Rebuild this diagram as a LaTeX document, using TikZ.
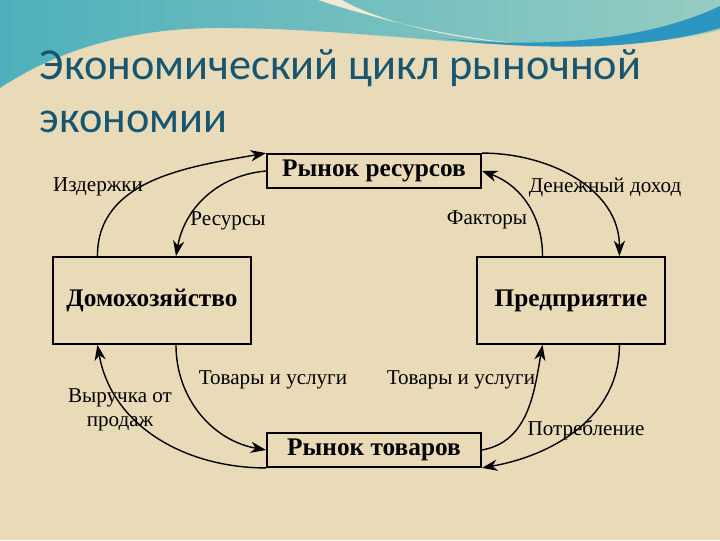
\documentclass[tikz,border=0pt]{standalone}
\usepackage{fontspec}
\setmainfont{Liberation Serif}
\newfontfamily\titlefont{Carlito}
\usetikzlibrary{arrows.meta,calc}

\definecolor{sand}{RGB}{233,218,184}
\definecolor{seateal}{RGB}{78,176,188}
\definecolor{sealight}{RGB}{150,204,194}
\definecolor{seadeep}{RGB}{45,150,192}
\definecolor{titleblue}{RGB}{22,86,112}

\begin{document}
\begin{tikzpicture}[x=0.025cm,y=0.025cm,
		box/.style={draw, line width=1.3pt, inner sep=0pt, font=\fontsize{18}{20}\selectfont\bfseries},
		flow/.style={line width=1pt, -{Stealth[length=11pt,width=8pt,inset=3.5pt]}},
		lbl/.style={inner sep=0pt, font=\fontsize{15}{17}\selectfont}]
		%% background and wave
		\fill[sand] (0,0) rectangle (720,540);
		\shade[left color=seateal, right color=sealight] (0,540) -- (720,540) -- (720,510)
			.. controls (660,495) and (590,493) .. (520,495)
			.. controls (440,497) and (330,512) .. (220,512)
			.. controls (120,512) and (50,485) .. (0,452) -- cycle;
		\fill[seadeep] (430,503) .. controls (560,488) and (660,505) .. (720,534) -- (720,512)
			.. controls (650,492) and (570,490) .. (480,497) -- cycle;
		\fill[sand!60!white] (318,540) .. controls (380,520) and (450,503) .. (515,497)
			.. controls (445,501) and (372,522) .. (342,540) -- cycle;
		\useasboundingbox (0,0) rectangle (720,540);
	
		\node[anchor=base west, text=titleblue, font=\titlefont\fontsize{31.5}{38}\selectfont] (title) at (35,460) {Экономический цикл рыночной};
		\node[anchor=base west, text=titleblue, font=\titlefont\fontsize{31.5}{38}\selectfont] (title2) at (35,407) {экономии};
	
		%% boxes
		\node[box, minimum width=5.35cm, minimum height=0.85cm] (resmarket) at (374,369) {Рынок ресурсов};
		\node[box, minimum width=5.35cm, minimum height=0.85cm] (goodsmarket) at (374,90) {Рынок товаров};
		\node[box, minimum width=4.95cm, minimum height=2.175cm] (household) at (152,239.5) {Домохозяйство};
		\node[box, minimum width=4.7cm, minimum height=2.175cm] (firm) at (571,239.5) {Предприятие};
	
		%% flows
		\draw[flow] ($(household.north west)!0.227!(household.north east)$) to[out=90,in=190] (resmarket.north west);
		\draw[flow] (resmarket.west) to[out=185,in=80] ($(household.north west)!0.62!(household.north east)$);
		\draw[flow] (resmarket.north east) to[out=0,in=90] ($(firm.north west)!0.755!(firm.north east)$);
		\draw[flow] ($(firm.north west)!0.35!(firm.north east)$) to[out=90,in=-20] (resmarket.east);
		\draw[flow] ($(household.south west)!0.62!(household.south east)$) to[out=-90,in=170] (goodsmarket.west);
		\draw[flow] (goodsmarket.south west) to[out=180,in=-80] ($(household.south west)!0.227!(household.south east)$);
		\draw[flow] (goodsmarket.east) to[out=10,in=-100] ($(firm.south west)!0.35!(firm.south east)$);
		\draw[flow] ($(firm.south west)!0.755!(firm.south east)$) to[out=-90,in=10] (goodsmarket.south east);
	
		%% labels
		\node[lbl] (costs) at (98,353) {Издержки};
		\node[lbl] (resources) at (228,319) {Ресурсы};
		\node[lbl] (factors) at (487,320) {Факторы};
		\node[lbl] (income) at (605,352) {Денежный доход};
		\node[lbl] (goodsleft) at (273,160) {Товары и услуги};
		\node[lbl, align=center] (revenue) at (120,130) {Выручка от\\продаж};
		\node[lbl] (goodsright) at (461,160) {Товары и услуги};
		\node[lbl] (consumption) at (586,110) {Потребление};
	\end{tikzpicture}
\end{document}
